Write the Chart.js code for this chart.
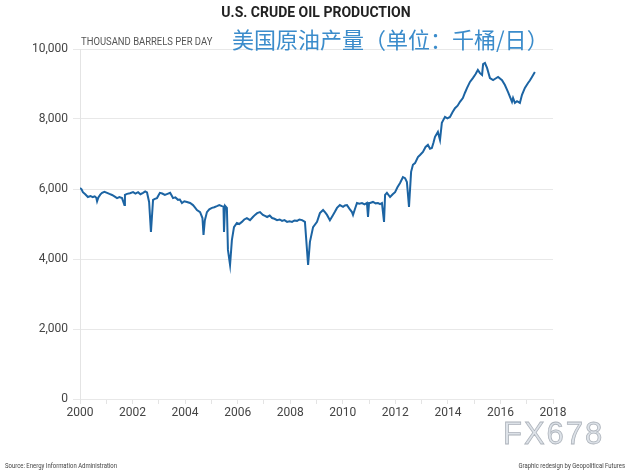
<!DOCTYPE html>
<html>
<head>
<meta charset="utf-8">
<script src="https://cdn.jsdelivr.net/npm/chart.js@4"></script>
<style>
  body { margin: 0; background: #fff; }
  #wrap { width: 630px; height: 473px; position: relative; }
</style>
</head>
<body>
<div id="wrap"><canvas id="oilChart"></canvas></div>
<script>
// weekly-ish readings (year as decimal, thousand barrels per day)
const years = [
    2000.00, 2000.06, 2000.11, 2000.20, 2000.30, 2000.40, 2000.49, 2000.56, 2000.62, 2000.65, 2000.70,
    2000.77, 2000.84, 2000.93, 2001.03, 2001.12, 2001.22, 2001.31, 2001.41, 2001.50,
    2001.60, 2001.69, 2001.71, 2001.79, 2001.90, 2002.02, 2002.11, 2002.21, 2002.30, 2002.40,
    2002.48, 2002.55, 2002.63, 2002.70, 2002.78, 2002.85, 2002.93, 2003.04, 2003.13, 2003.23,
    2003.33, 2003.43, 2003.54, 2003.63, 2003.73, 2003.80, 2003.88, 2003.97, 2004.07, 2004.19,
    2004.30, 2004.38, 2004.45, 2004.57, 2004.66, 2004.70, 2004.75, 2004.83, 2004.92, 2005.02,
    2005.11, 2005.21, 2005.30, 2005.40, 2005.46, 2005.48, 2005.52, 2005.59, 2005.63, 2005.71,
    2005.78, 2005.86, 2005.97, 2006.06, 2006.16, 2006.25, 2006.35, 2006.47, 2006.58, 2006.66,
    2006.74, 2006.85, 2006.96, 2007.04, 2007.12, 2007.22, 2007.31, 2007.40, 2007.50, 2007.60,
    2007.69, 2007.78, 2007.88, 2007.97, 2008.07, 2008.16, 2008.26, 2008.35, 2008.45, 2008.56,
    2008.68, 2008.75, 2008.87, 2009.02, 2009.13, 2009.25, 2009.33, 2009.40, 2009.51, 2009.63,
    2009.70, 2009.78, 2009.89, 2010.01, 2010.08, 2010.16, 2010.25, 2010.35, 2010.39, 2010.46,
    2010.54, 2010.63, 2010.73, 2010.83, 2010.92, 2010.96, 2011.00, 2011.04, 2011.15, 2011.25,
    2011.34, 2011.42, 2011.49, 2011.57, 2011.61, 2011.64, 2011.68, 2011.80, 2011.90, 2011.99,
    2012.08, 2012.18, 2012.29, 2012.37, 2012.44, 2012.52, 2012.60, 2012.67, 2012.75, 2012.86,
    2012.94, 2013.05, 2013.15, 2013.24, 2013.32, 2013.39, 2013.45, 2013.51, 2013.62, 2013.70,
    2013.77, 2013.89, 2013.98, 2014.08, 2014.18, 2014.27, 2014.37, 2014.46, 2014.57, 2014.65,
    2014.73, 2014.84, 2014.95, 2015.05, 2015.14, 2015.22, 2015.30, 2015.34, 2015.41, 2015.49,
    2015.60, 2015.72, 2015.80, 2015.91, 2016.06, 2016.17, 2016.29, 2016.44, 2016.48, 2016.55,
    2016.63, 2016.74, 2016.82, 2016.93, 2017.05, 2017.12, 2017.20, 2017.31
];
const production = [
    6030, 5990, 5910, 5850, 5770, 5800, 5770, 5790, 5750, 5650, 5760,
    5840, 5890, 5920, 5890, 5860, 5830, 5790, 5740, 5770,
    5740, 5540, 5830, 5860, 5880, 5910, 5870, 5910, 5850, 5890,
    5930, 5900, 5630, 4770, 5690, 5720, 5740, 5890, 5870, 5830,
    5860, 5890, 5740, 5760, 5690, 5700, 5600, 5650, 5630, 5600,
    5540, 5470, 5400, 5340, 5170, 4690, 5100, 5340, 5420, 5460,
    5480, 5510, 5540, 5510, 5500, 4770, 5520, 5460, 4260, 3830,
    4540, 4910, 5030, 5000, 5060, 5130, 5170, 5110, 5200, 5260,
    5310, 5340, 5260, 5230, 5200, 5240, 5170, 5150, 5110, 5130,
    5090, 5110, 5060, 5080, 5060, 5100, 5090, 5130, 5110, 5060,
    3830, 4490, 4910, 5060, 5310, 5400, 5330, 5260, 5110, 5260,
    5350, 5460, 5540, 5490, 5530, 5540, 5440, 5340, 5260, 5420,
    5600, 5580, 5600, 5560, 5600, 5200, 5600, 5600, 5630, 5590,
    5600, 5570, 5600, 5060, 5830, 5830, 5890, 5770, 5850, 5910,
    6050, 6170, 6340, 6310, 6200, 5490, 6490, 6690, 6740, 6910,
    6970, 7060, 7200, 7260, 7150, 7170, 7320, 7490, 7630, 7400,
    7890, 8060, 8020, 8060, 8200, 8310, 8380, 8490, 8600, 8750,
    8890, 9060, 9170, 9280, 9400, 9310, 9260, 9570, 9600, 9460,
    9170, 9110, 9150, 9200, 9110, 8970, 8770, 8490, 8600, 8460,
    8510, 8460, 8690, 8890, 9030, 9100, 9200, 9340
];
const yTicks = [0, 2000, 4000, 6000, 8000, 10000];

const points = years.map((y, i) => ({ x: y, y: production[i] }));

function narrowText(ctx, txt, x, y, sx) {
    ctx.save();
    ctx.translate(x, y);
    ctx.scale(sx, 1);
    ctx.fillText(txt, 0, 0);
    ctx.restore();
}

const textPlugin = {
    id: "texts",
    afterDraw(chart) {
        const ctx = chart.ctx;
        ctx.save();
        ctx.textBaseline = "middle";

        ctx.fillStyle = "#222";
        ctx.font = "bold 14px Roboto";
        ctx.textAlign = "center";
        ctx.fillText("U.S. CRUDE OIL PRODUCTION", 316, 13);

        ctx.textAlign = "left";
        ctx.fillStyle = "#555";
        ctx.font = "11px Roboto";
        narrowText(ctx, "THOUSAND BARRELS PER DAY", 81, 42, 0.86);

        ctx.fillStyle = "#3b8ccb";
        ctx.font = "22px 'Noto Sans CJK SC'";
        ctx.fillText("美国原油产量（单位：千桶/日）", 232, 40);

        ctx.fillStyle = "#444";
        ctx.font = "7px Roboto";
        narrowText(ctx, "Source: Energy Information Administration", 5, 466, 0.85);
        ctx.textAlign = "right";
        narrowText(ctx, "Graphic redesign by Geopolitical Futures", 625, 466, 0.85);

        ctx.textAlign = "left";
        ctx.font = "31px 'Liberation Sans'";
        ctx.letterSpacing = "2px";
        ctx.fillStyle = "#dde2e8";
        ctx.strokeStyle = "#aeb4bc";
        ctx.lineWidth = 0.8;
        ctx.fillText("FX678", 503, 435);
        ctx.strokeText("FX678", 503, 435);
        ctx.restore();
    }
};

new Chart(document.getElementById("oilChart"), {
    type: "line",
    data: {
        datasets: [{
            data: points,
            borderColor: "#1c64a3",
            borderWidth: 2,
            pointRadius: 0,
            tension: 0,
            fill: false
        }]
    },
    options: {
        responsive: true,
        maintainAspectRatio: false,
        animation: false,
        layout: { padding: { left: 0, right: 77, top: 49, bottom: 0 } },
        plugins: { legend: { display: false }, tooltip: { enabled: false } },
        scales: {
            x: {
                type: "linear",
                min: 2000,
                max: 2018,
                afterFit: s => { s.height = 74; },
                afterBuildTicks: s => {
                    s.ticks = [];
                    for (let y = 2000; y <= 2018; y++) s.ticks.push({ value: y });
                },
                ticks: {
                    autoSkip: false,
                    maxRotation: 0,
                    padding: 2,
                    color: "#444",
                    font: { family: "Roboto", size: 12 },
                    callback: v => (v % 2 === 0 ? String(v) : "")
                },
                grid: { drawOnChartArea: false, drawTicks: true, tickLength: 5, color: "#e4e4e4" },
                border: { display: false }
            },
            y: {
                min: 0,
                max: 10000,
                afterFit: s => { s.width = 80; },
                afterBuildTicks: s => { s.ticks = yTicks.map(v => ({ value: v })); },
                ticks: {
                    padding: 5,
                    color: "#444",
                    font: { family: "Roboto", size: 12 },
                    callback: v => v.toLocaleString("en-US")
                },
                grid: { color: "#e8e8e8", tickLength: 7 },
                border: { display: true, color: "#e4e4e4" }
            }
        }
    },
    plugins: [textPlugin]
});
</script>
</body>
</html>
